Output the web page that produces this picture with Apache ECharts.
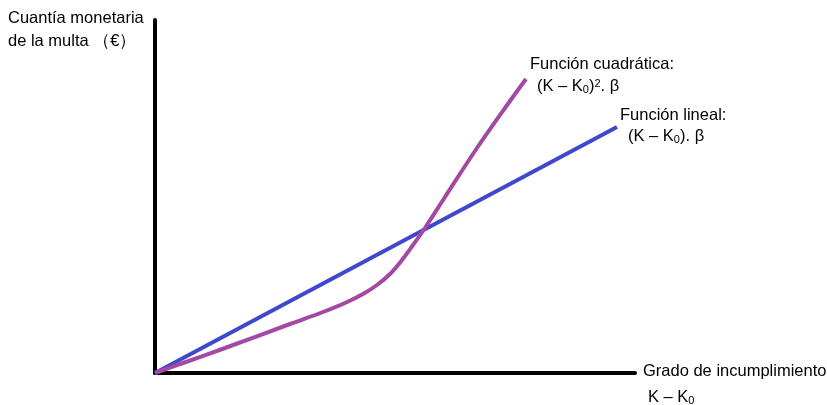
<!DOCTYPE html>
<html><head><meta charset="utf-8">
<script src="https://cdn.jsdelivr.net/npm/echarts@6/dist/echarts.min.js"></script>
<style>html,body{margin:0;padding:0;background:#fff}#c{width:827px;height:405px}</style>
</head><body><div id="c"></div>
<script>
// Data (arbitrary units along K - K0 and fine amount)
const quadX = [0, 28, 70, 135, 168, 190, 208, 222, 235, 247, 258, 270, 290, 322, 355, 371];
const quadY = [0, 10, 25, 49, 61, 70, 79, 88, 99, 113, 128, 145, 176, 225, 272, 294];
const linX = [0, 462];
const linY = [0, 246];
const xMax = 480, yMax = 353;

const chart = echarts.init(document.getElementById('c'));
const font = '"Liberation Sans", Arial, sans-serif';
const fs = 16.5;
const rich = {
  n: {fontSize: fs, fontFamily: font, color: '#000'},
  sub: {fontSize: 11, fontFamily: font, color: '#000', verticalAlign: 'bottom'},
  sup: {fontSize: 11, fontFamily: font, color: '#000', verticalAlign: 'top'}
};
function txt(x, y, s) {
  return {type: 'text', left: x, top: y, style: {text: s, rich: rich, font: fs + 'px ' + font, fill: '#000'}};
}
chart.setOption({
  animation: false,
  grid: {left: 155, right: 192, top: 20, bottom: 32},
  xAxis: {type: 'value', min: 0, max: xMax, axisLine: {show: true, onZero: false, lineStyle: {color: '#000', width: 4}},
    axisTick: {show: false}, axisLabel: {show: false}, splitLine: {show: false}},
  yAxis: {type: 'value', min: 0, max: yMax, axisLine: {show: true, onZero: false, lineStyle: {color: '#000', width: 4}},
    axisTick: {show: false}, axisLabel: {show: false}, splitLine: {show: false}},
  series: [
    {type: 'line', data: linX.map((x, i) => [x, linY[i]]), showSymbol: false, lineStyle: {color: '#3F48CC', width: 4}},
    {type: 'line', data: quadX.map((x, i) => [x, quadY[i]]), smooth: 0.35, showSymbol: false, lineStyle: {color: '#A349A4', width: 4}}
  ],
  graphic: [
    txt(8, 10, '{n|Cuantía monetaria}'),
    txt(8, 33, '{n|de la multa （€）}'),
    txt(530, 56, '{n|Función cuadrática:}'),
    txt(537, 78, '{n|(K – K}{sub|0}{n|)}{sup|2}{n|. β}'),
    txt(620, 107, '{n|Función lineal:}'),
    txt(628, 128, '{n|(K – K}{sub|0}{n|). β}'),
    txt(643, 363, '{n|Grado de incumplimiento}'),
    txt(648, 389, '{n|K – K}{sub|0}')
  ]
});
</script></body></html>
